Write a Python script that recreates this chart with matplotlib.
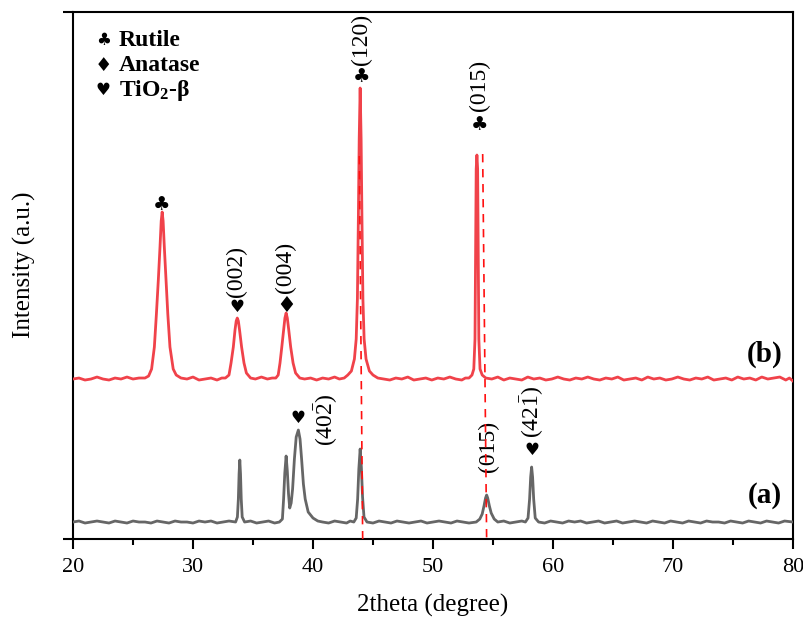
import matplotlib
matplotlib.use('Agg')
import matplotlib.pyplot as plt
from matplotlib.ticker import MultipleLocator

plt.rcParams['font.family'] = ['Liberation Serif', 'DejaVu Sans']
plt.rcParams['mathtext.fontset'] = 'custom'
plt.rcParams['mathtext.rm'] = 'Liberation Serif'
plt.rcParams['mathtext.it'] = 'Liberation Serif:italic'
plt.rcParams['mathtext.bf'] = 'Liberation Serif:bold'

# (b) pattern, red
red_2theta = [20.0, 20.5, 21.0, 21.5, 22.0, 22.5, 23.0, 23.5, 24.0, 24.5, 25.0, 25.5,
              26.0, 26.3, 26.55, 26.78, 26.95, 27.11, 27.25, 27.35, 27.43, 27.51, 27.61,
              27.75, 27.9, 28.08, 28.35, 28.6, 29.0,
              29.5, 30.0, 30.5, 31.0, 31.5, 32.0, 32.4,
              32.7, 33.0, 33.17, 33.36, 33.5, 33.6, 33.69, 33.78, 33.88, 34.05, 34.25, 34.45, 34.8,
              35.2, 35.7, 36.2, 36.6,
              36.9, 37.1, 37.25, 37.4, 37.55, 37.66, 37.76, 37.86, 37.98, 38.14, 38.34, 38.55, 38.9,
              39.3, 39.8, 40.3, 40.8, 41.3, 41.8, 42.2,
              42.6, 42.9, 43.2, 43.45, 43.6, 43.7, 43.78, 43.85, 43.93, 44.01, 44.08, 44.16,
              44.26, 44.42, 44.7, 45.0, 45.4,
              45.9, 46.4, 46.9, 47.4, 47.9, 48.4, 48.9, 49.4, 49.9, 50.4, 50.9, 51.4,
              51.9, 52.4, 52.7,
              53.0, 53.25, 53.4, 53.5, 53.55, 53.6, 53.66, 53.72, 53.77, 53.82, 53.92, 54.1, 54.4,
              54.9, 55.4, 55.9, 56.4, 56.9, 57.4, 57.9, 58.4, 58.9, 59.4, 59.9, 60.4,
              60.9, 61.4, 61.9, 62.4, 62.9, 63.4, 63.9, 64.4, 64.9, 65.4, 65.9, 66.4,
              66.9, 67.4, 67.9, 68.4, 68.9, 69.4, 69.9, 70.4, 70.9, 71.4, 71.9, 72.4,
              72.9, 73.4, 73.9, 74.4, 74.9, 75.4, 75.9, 76.4, 76.9, 77.4, 77.9, 78.4,
              78.9, 79.4, 79.7, 80.0]
red_counts = [160, 161, 159, 160, 162, 160, 159, 161, 160, 162, 160, 161,
              161, 163, 170, 192, 225, 259, 292, 318, 327, 318, 292,
              259, 225, 192, 170, 164, 161,
              160, 162, 159, 160, 161, 159, 161,
              161, 164, 176, 192, 209, 218, 221, 218, 209, 192, 176, 166, 161,
              160, 162, 160, 161,
              161, 164, 176, 192, 209, 221, 226, 221, 209, 192, 176, 166, 161,
              160, 161, 159, 161, 160, 162, 160,
              161, 164, 168, 180, 200, 240, 320, 400, 451, 400, 320, 240,
              200, 180, 168, 164, 161,
              160, 159, 161, 160, 162, 159, 160, 161, 159, 161, 160, 162,
              160, 159, 161,
              161, 164, 170, 200, 290, 370, 384, 370, 290, 200, 170, 164, 161,
              160, 162, 159, 161, 160, 159, 162, 160, 161, 159, 160, 162,
              160, 159, 161, 160, 162, 160, 159, 161, 160, 162, 159, 160,
              161, 159, 162, 160, 161, 159, 160, 162, 160, 159, 161, 160,
              162, 159, 160, 161, 159, 162, 160, 161, 159, 162, 160, 161,
              162, 159, 161, 158]

# (a) pattern, grey
gray_2theta = [20.0, 20.5, 21.0, 21.5, 22.0, 22.5, 23.0, 23.5, 24.0, 24.5, 25.0, 25.5,
               26.0, 26.5, 27.0, 27.5, 28.0, 28.5, 29.0, 29.5, 30.0, 30.5, 31.0, 31.5,
               32.0, 32.5, 33.0, 33.55,
               33.7, 33.78, 33.84, 33.9, 33.96, 34.02, 34.1, 34.3,
               34.8, 35.3, 35.8, 36.3, 36.8, 37.2,
               37.45, 37.55, 37.65, 37.76, 37.86, 37.96, 38.06, 38.18, 38.3, 38.45, 38.6,
               38.78, 38.92, 39.05, 39.2, 39.35, 39.6, 40.0, 40.4, 40.8,
               41.3, 41.8, 42.3, 42.8, 43.1, 43.4,
               43.6, 43.72, 43.82, 43.93, 44.03, 44.13, 44.25, 44.5,
               45.0, 45.5, 46.0, 46.5, 47.0, 47.5, 48.0, 48.5, 49.0, 49.5, 50.0, 50.5,
               51.0, 51.5, 52.0, 52.5, 53.0, 53.6,
               53.9, 54.1, 54.25, 54.38, 54.47, 54.56, 54.7, 54.85, 55.1, 55.4,
               55.9, 56.4, 56.9, 57.4, 57.7,
               57.92, 58.05, 58.14, 58.22, 58.3, 58.39, 58.52, 58.8,
               59.3, 59.8, 60.3, 60.8, 61.3, 61.8, 62.3, 62.8, 63.3, 63.8, 64.3, 64.8,
               65.3, 65.8, 66.3, 66.8, 67.3, 67.8, 68.3, 68.8, 69.3, 69.8, 70.3, 70.8,
               71.3, 71.8, 72.3, 72.8, 73.3, 73.8, 74.3, 74.8, 75.3, 75.8, 76.3, 76.8,
               77.3, 77.8, 78.3, 78.8, 79.3, 80.0]
gray_counts = [17, 18, 16, 17, 18, 17, 16, 18, 17, 16, 18, 17,
               17, 16, 18, 17, 16, 18, 17, 17, 16, 18, 17, 18,
               16, 17, 18, 17,
               22, 40, 65, 79, 65, 40, 22, 17,
               18, 16, 17, 18, 16, 17,
               20, 40, 66, 83, 68, 45, 31, 36, 50, 80, 102,
               109, 100, 80, 55, 40, 27, 21, 18, 17,
               16, 18, 17, 16, 18, 17,
               21, 40, 70, 90, 72, 42, 22, 17,
               16, 18, 17, 16, 18, 17, 16, 17, 18, 16, 17, 18,
               17, 16, 18, 17, 16, 17,
               20, 25, 33, 41, 44, 41, 33, 26, 20, 17,
               18, 16, 17, 18, 17,
               21, 40, 62, 72, 62, 40, 21, 17,
               16, 18, 17, 16, 18, 17, 18, 16, 17, 18, 16, 17,
               18, 16, 17, 18, 17, 16, 18, 17, 16, 18, 17, 16,
               18, 17, 16, 18, 17, 17, 16, 18, 17, 16, 18, 17,
               16, 18, 17, 16, 18, 17]

# dashed guide lines: 2theta at top, intensity at top, 2theta at the axis
guide_top_2theta = [43.86, 54.14]
guide_top_counts = [383, 385]
guide_bottom_2theta = [44.14, 54.47]

fig = plt.figure(figsize=(8.04, 6.23), dpi=100)
ax = fig.add_axes([0.0908, 0.1348, 0.8955, 0.8459])

ax.plot(gray_2theta, gray_counts, color='#666666', lw=2.0, zorder=3)
ax.plot(red_2theta, red_counts, color='#F0424A', lw=2.0, zorder=3)

for xt, yt, xb in zip(guide_top_2theta, guide_top_counts, guide_bottom_2theta):
    ax.plot([xt, xb], [yt, 0], color='#FF1010', lw=1.2, ls=(0, (5, 4)), zorder=4)

ax.set_xlim(20, 80)
ax.set_ylim(0, 527)
ax.xaxis.set_major_locator(MultipleLocator(10))
ax.xaxis.set_minor_locator(MultipleLocator(5))
ax.set_yticks([0, 527])
ax.set_yticklabels([])
ax.tick_params(axis='both', which='major', direction='out', length=7, width=1.5,
               labelsize=16, pad=7)
ax.tick_params(axis='x', which='minor', direction='out', length=4, width=1.5)
for s in ax.spines.values():
    s.set_linewidth(1.5)

ax.set_xlabel('2theta (degree)', fontsize=18, labelpad=12)
ax.set_ylabel('Intensity (a.u.)', fontsize=18)
ax.yaxis.set_label_coords(-0.052, 0.52)

club = dict(ha='center', va='center', fontsize=14, family=['DejaVu Sans'])
heart = dict(ha='center', va='center', fontsize=12, family=['DejaVu Sans'])
diamond = dict(ha='center', va='center', fontsize=16, family=['DejaVu Sans'])
lab = dict(ha='center', va='bottom', rotation=90, fontsize=17)

# red peaks
ax.text(27.4, 334, '\u2663', **club)
ax.text(33.66, 232, '\u2665', **heart)
ax.text(33.64, 242, '(002)', **lab)
ax.text(37.74, 233, '\u2666', **diamond)
ax.text(37.72, 246, '(004)', **lab)
ax.text(44.05, 462, '\u2663', **club)
ax.text(44.05, 474, '(120)', **lab)
ax.text(53.9, 414, '\u2663', **club)
ax.text(53.9, 428, '(015)', **lab)

# grey peaks
ax.text(38.78, 121, '\u2665', **heart)
ax.text(41.1, 93, r'(40$\bar{2}$)', **lab)
ax.text(54.65, 67, '(015)', **lab)
ax.text(58.25, 89, '\u2665', **heart)
ax.text(58.25, 101, r'(42$\bar{1}$)', **lab)

ax.text(79.1, 185, '(b)', ha='right', va='center', fontsize=21, fontweight='bold')
ax.text(79.1, 44, '(a)', ha='right', va='center', fontsize=21, fontweight='bold')

# phase key
key_syms = ['\u2663', '\u2666', '\u2665']
key_sizes = [12, 14, 12]
key_names = ['Rutile', 'Anatase', r'TiO$_\mathbf{2}$-' + '\u03b2']
for i, (s, fs, n) in enumerate(zip(key_syms, key_sizes, key_names)):
    yy = 0.946 - i * 0.047
    ax.text(0.042, yy, s, transform=ax.transAxes, ha='center', va='center',
            fontsize=fs, family=['DejaVu Sans'])
    ax.text(0.064, yy, n, transform=ax.transAxes, ha='left', va='center',
            fontsize=17, fontweight='bold')

fig.savefig('out.png', dpi=100)
